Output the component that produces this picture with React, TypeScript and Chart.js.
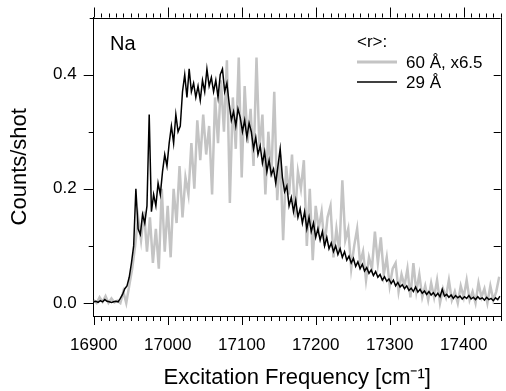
import React, { useEffect, useRef } from "react";
import { Chart, registerables } from "chart.js";

Chart.register(...registerables);

// ---- data ----
const xTickValues = [16900, 17000, 17100, 17200, 17300, 17400];
const yTickValues = [0.0, 0.2, 0.4];
const xMin = 16900;
const xMax = 17450;
const yMin = -0.0228;
const yMax = 0.5;

const seriesLabels = ["60 Å, x6.5", "29 Å"];
const legendTitle = "<r>:";
const panelLabel = "Na";
const xTitle = "Excitation Frequency [cm⁻¹]";
const yTitle = "Counts/shot";

// 29 Å (black), sampled every 3 cm-1 from 16900
const blackStart = 16900;
const blackStep = 3;
const blackValues = [
  0.002, 0.003, 0.001, 0.004, 0.002, 0.006, 0.003, 0.002, 0.001, 0.002, 0.003, 0.002,
  0.008, 0.015, 0.025, 0.03, 0.045, 0.07, 0.1, 0.2, 0.13, 0.12, 0.155, 0.14, 0.17,
  0.33, 0.16, 0.19, 0.17, 0.21, 0.19, 0.23, 0.26, 0.24, 0.28, 0.31, 0.28, 0.33, 0.30, 0.31,
  0.37, 0.40, 0.36, 0.41, 0.37, 0.385, 0.36, 0.38, 0.355, 0.39, 0.37, 0.41, 0.38, 0.395,
  0.37, 0.39, 0.36, 0.40, 0.41, 0.37, 0.385, 0.35, 0.32, 0.335, 0.31, 0.34, 0.325, 0.30,
  0.32, 0.29, 0.315, 0.30, 0.27, 0.29, 0.26, 0.275, 0.245, 0.265, 0.23, 0.25, 0.225, 0.235,
  0.21, 0.24, 0.27, 0.22, 0.195, 0.205, 0.17, 0.185, 0.16, 0.18, 0.15, 0.165, 0.14, 0.16,
  0.13, 0.15, 0.125, 0.14, 0.115, 0.13, 0.11, 0.125, 0.10, 0.115, 0.095, 0.105, 0.09, 0.10,
  0.085, 0.095, 0.08, 0.09, 0.075, 0.082, 0.07, 0.078, 0.064, 0.072, 0.06, 0.068, 0.056,
  0.062, 0.052, 0.058, 0.048, 0.055, 0.045, 0.05, 0.04, 0.046, 0.038, 0.042, 0.034, 0.04,
  0.03, 0.036, 0.028, 0.032, 0.025, 0.03, 0.022, 0.026, 0.02, 0.028, 0.019, 0.024, 0.017,
  0.021, 0.015, 0.02, 0.014, 0.018, 0.012, 0.017, 0.011, 0.024, 0.012, 0.015, 0.01, 0.014,
  0.008, 0.013, 0.009, 0.012, 0.007, 0.011, 0.008, 0.013, 0.007, 0.01, 0.006, 0.011, 0.007,
  0.009, 0.005, 0.01, 0.006, 0.008, 0.004, 0.009, 0.006, 0.012,
];

// 60 Å x6.5 (grey), sampled every 4 cm-1 from 16900
const grayStart = 16900;
const grayStep = 4;
const grayValues = [
  0.005, 0.0, 0.01, 0.002, 0.012, 0.0, 0.008, 0.001, 0.004, 0.0,
  0.02, 0.0, 0.03, 0.06, 0.1, 0.15, 0.11, 0.16, 0.09, 0.15,
  0.07, 0.13, 0.06, 0.2, 0.09, 0.17, 0.08, 0.2, 0.14, 0.24,
  0.15, 0.22, 0.19, 0.28, 0.2, 0.32, 0.25, 0.33, 0.26, 0.31,
  0.19, 0.36, 0.28, 0.39, 0.3, 0.425, 0.175, 0.36, 0.27, 0.43,
  0.22, 0.38, 0.28, 0.34, 0.24, 0.43, 0.27, 0.33, 0.19, 0.3,
  0.22, 0.37, 0.18, 0.26, 0.11, 0.24, 0.19, 0.26, 0.15, 0.23,
  0.2, 0.25, 0.1, 0.2, 0.075, 0.17, 0.13, 0.16, 0.1, 0.15,
  0.17, 0.08, 0.13, 0.09, 0.215, 0.11, 0.13, 0.06, 0.1, 0.13,
  0.07, 0.09, 0.04, 0.08, 0.06, 0.125, 0.07, 0.115, 0.05, 0.08,
  0.03, 0.06, 0.07, 0.02, 0.05, 0.03, 0.06, 0.01, 0.07, 0.02,
  0.05, 0.01, 0.03, 0.005, 0.035, 0.01, 0.04, 0.0, 0.025, 0.01,
  0.04, 0.005, 0.02, 0.0, 0.03, 0.01, 0.04, 0.005, 0.02, 0.0,
  0.035, 0.01, 0.025, 0.0, 0.03, 0.005, 0.02, 0.046,
];

const FONT = "'Liberation Sans', Arial, sans-serif";
const GREY = "#c4c4c4";

const decoPlugin = {
  id: "deco",
  afterDraw(chart: any) {
    const { ctx, chartArea } = chart;
    const { left, right, top, bottom } = chartArea;
    const xs = chart.scales.x;
    const ys = chart.scales.y;
    ctx.save();
    ctx.strokeStyle = "#000";
    ctx.lineWidth = 1;
    ctx.beginPath();
    // top and right frame
    ctx.moveTo(left - 4, Math.round(top) + 0.5);
    ctx.lineTo(right, Math.round(top) + 0.5);
    ctx.moveTo(Math.round(right) + 0.5, top);
    ctx.lineTo(Math.round(right) + 0.5, bottom);
    // x ticks (every 10)
    for (let v = xMin; v <= xMax; v += 10) {
      const px = Math.round(xs.getPixelForValue(v)) + 0.5;
      const major = v % 100 === 0;
      ctx.moveTo(px, bottom);
      ctx.lineTo(px, bottom + (major ? 9 : 5));
      ctx.moveTo(px, top);
      ctx.lineTo(px, top - (major ? 10 : 4));
    }
    // y ticks (every 0.1)
    for (let k = 0; k <= 4; k++) {
      const v = k / 10;
      const py = Math.round(ys.getPixelForValue(v)) + 0.5;
      const major = k % 2 === 0;
      ctx.moveTo(left, py);
      ctx.lineTo(left - (major ? 10 : 5), py);
      ctx.moveTo(right, py);
      ctx.lineTo(right - 7, py);
    }
    ctx.stroke();

    // panel label
    ctx.fillStyle = "#000";
    ctx.textBaseline = "alphabetic";
    ctx.textAlign = "left";
    ctx.font = `20px ${FONT}`;
    ctx.fillText(panelLabel, 110, 50);

    // legend
    ctx.font = `17px ${FONT}`;
    ctx.fillText(legendTitle, 357, 47);
    ctx.fillText(seriesLabels[0], 406, 68);
    ctx.fillText(seriesLabels[1], 406, 88);
    ctx.beginPath();
    ctx.strokeStyle = GREY;
    ctx.lineWidth = 3;
    ctx.moveTo(357, 62);
    ctx.lineTo(397, 62);
    ctx.stroke();
    ctx.beginPath();
    ctx.strokeStyle = "#000";
    ctx.lineWidth = 1.5;
    ctx.moveTo(357, 82);
    ctx.lineTo(397, 82);
    ctx.stroke();
    ctx.restore();
  },
};

export default function App() {
  const ref = useRef<HTMLCanvasElement | null>(null);

  useEffect(() => {
    if (!ref.current) return;
    const chart = new Chart(ref.current, {
      type: "line",
      data: {
        datasets: [
          {
            label: seriesLabels[1],
            data: blackValues.map((v, i) => ({ x: blackStart + i * blackStep, y: v })),
            borderColor: "#000",
            borderWidth: 1.5,
            pointRadius: 0,
            tension: 0,
            order: 0,
          },
          {
            label: seriesLabels[0],
            data: grayValues.map((v, i) => ({ x: grayStart + i * grayStep, y: v })),
            borderColor: GREY,
            borderWidth: 2.5,
            pointRadius: 0,
            tension: 0,
            order: 1,
          },
        ],
      },
      options: {
        animation: false,
        responsive: false,
        devicePixelRatio: 1,
        layout: { padding: { top: 17.5, right: 5.3, left: 0, bottom: 0 } },
        plugins: { legend: { display: false }, tooltip: { enabled: false } },
        scales: {
          x: {
            type: "linear",
            min: xMin,
            max: xMax,
            afterBuildTicks: (s: any) => {
              s.ticks = xTickValues.map((v) => ({ value: v }));
            },
            afterFit: (s: any) => {
              s.height = 75;
            },
            ticks: {
              font: { family: FONT, size: 17 },
              color: "#000",
              padding: 9,
              maxRotation: 0,
              autoSkip: false,
              callback: (v: any) => String(v),
            },
            grid: { display: true, drawOnChartArea: false, drawTicks: true, tickLength: 10, color: "rgba(0,0,0,0)" },
            border: { display: true, color: "#000", width: 1 },
            title: {
              display: true,
              text: xTitle,
              font: { family: FONT, size: 22 },
              color: "#000",
              padding: { top: 0, bottom: 0 },
            },
          },
          y: {
            type: "linear",
            min: yMin,
            max: yMax,
            afterBuildTicks: (s: any) => {
              s.ticks = yTickValues.map((v) => ({ value: v }));
            },
            afterFit: (s: any) => {
              s.width = 93.7;
            },
            ticks: {
              font: { family: FONT, size: 17 },
              color: "#000",
              padding: 7,
              callback: (v: any) => Number(v).toFixed(1),
            },
            grid: { display: true, drawOnChartArea: false, drawTicks: true, tickLength: 10, color: "rgba(0,0,0,0)" },
            border: { display: true, color: "#000", width: 1 },
            title: {
              display: true,
              text: yTitle,
              font: { family: FONT, size: 22 },
              color: "#000",
              padding: { top: 7, bottom: 0 },
            },
          },
        },
      },
      plugins: [decoPlugin],
    } as any);
    return () => chart.destroy();
  }, []);

  return (
    <div style={{ position: "fixed", left: 0, top: 0, width: 506, height: 391, background: "#fff" }}>
      <canvas ref={ref} width={506} height={391} style={{ width: 506, height: 391 }} />
    </div>
  );
}
